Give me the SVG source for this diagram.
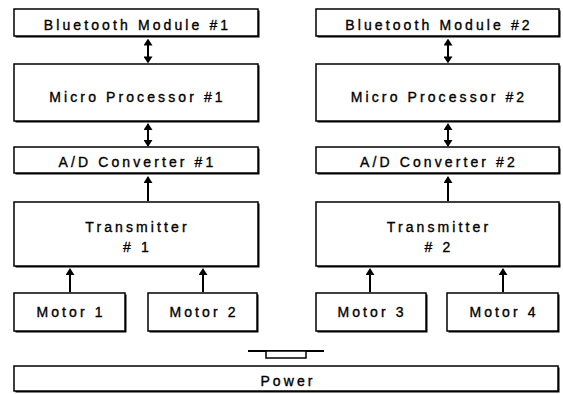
<svg xmlns="http://www.w3.org/2000/svg" width="563" height="394" viewBox="0 0 563 394">
<style>
  .sh { fill: #000; }
  .box { fill: #fff; stroke: #000; stroke-width: 1.5; }
  .t { font-family: "Liberation Sans", Arial, Helvetica, sans-serif; font-size: 14px; letter-spacing: 3.1px; text-anchor: middle; fill: #000; stroke: #000; stroke-width: 0.35px; }
  .ln { stroke: #000; stroke-width: 2; fill: none; }
</style>
<defs>
  <marker id="ah" viewBox="0 0 10 10" refX="8" refY="5" markerWidth="7" markerHeight="9" markerUnits="userSpaceOnUse" preserveAspectRatio="none" orient="auto-start-reverse">
    <path d="M0,0 L10,5 L0,10 z" fill="#000"/>
  </marker>
</defs>
<rect width="563" height="394" fill="#fff"/>

<g id="bt1"><rect class="sh" x="15.5" y="10.5" width="244" height="27"/><rect class="box" x="14" y="9" width="244" height="27"/><text class="t" x="137.5" y="30">Bluetooth Module #1</text></g>
<g id="mp1"><rect class="sh" x="15.5" y="65.5" width="244" height="57"/><rect class="box" x="14" y="64" width="244" height="57"/><text class="t" x="137.5" y="102">Micro Processor #1</text></g>
<g id="ad1"><rect class="sh" x="15.5" y="148.5" width="244" height="26"/><rect class="box" x="14" y="147" width="244" height="26"/><text class="t" x="137.5" y="167">A/D Converter #1</text></g>
<g id="tx1"><rect class="sh" x="15.5" y="203.5" width="244" height="64"/><rect class="box" x="14" y="202" width="244" height="64"/><text class="t" x="137.5" y="232">Transmitter</text><text class="t" x="137.5" y="252"># 1</text></g>
<g id="m1"><rect class="sh" x="15.5" y="294.5" width="111" height="38"/><rect class="box" x="14" y="293" width="111" height="38"/><text class="t" x="71" y="317">Motor 1</text></g>
<g id="m2"><rect class="sh" x="149.5" y="294.5" width="109" height="38"/><rect class="box" x="148" y="293" width="109" height="38"/><text class="t" x="204" y="317">Motor 2</text></g>

<g id="bt2"><rect class="sh" x="317.5" y="10.5" width="243" height="27"/><rect class="box" x="316" y="9" width="243" height="27"/><text class="t" x="439" y="30">Bluetooth Module #2</text></g>
<g id="mp2"><rect class="sh" x="317.5" y="65.5" width="243" height="57"/><rect class="box" x="316" y="64" width="243" height="57"/><text class="t" x="439" y="102">Micro Processor #2</text></g>
<g id="ad2"><rect class="sh" x="317.5" y="148.5" width="243" height="26"/><rect class="box" x="316" y="147" width="243" height="26"/><text class="t" x="439" y="167">A/D Converter #2</text></g>
<g id="tx2"><rect class="sh" x="317.5" y="203.5" width="243" height="64"/><rect class="box" x="316" y="202" width="243" height="64"/><text class="t" x="439" y="232">Transmitter</text><text class="t" x="439" y="252"># 2</text></g>
<g id="m3"><rect class="sh" x="317.5" y="294.5" width="110" height="38"/><rect class="box" x="316" y="293" width="110" height="38"/><text class="t" x="372" y="317">Motor 3</text></g>
<g id="m4"><rect class="sh" x="448.5" y="294.5" width="111" height="38"/><rect class="box" x="447" y="293" width="111" height="38"/><text class="t" x="504" y="317">Motor 4</text></g>

<g id="power"><rect class="sh" x="15.5" y="367.5" width="544" height="25"/><rect class="box" x="14" y="366" width="544" height="25"/><text class="t" x="288" y="386">Power</text></g>

<g id="switch">
  <line class="ln" x1="248" y1="351" x2="324" y2="351" stroke-width="1.5"/>
  <rect x="266" y="351" width="40" height="7" fill="#fff" stroke="#000" stroke-width="1.5"/>
</g>

<g id="connectors">
  <line class="ln" x1="148" y1="40" x2="148" y2="62" marker-start="url(#ah)" marker-end="url(#ah)"/>
  <line class="ln" x1="148" y1="124.5" x2="148" y2="145.5" marker-start="url(#ah)" marker-end="url(#ah)"/>
  <line class="ln" x1="448" y1="40" x2="448" y2="62" marker-start="url(#ah)" marker-end="url(#ah)"/>
  <line class="ln" x1="448" y1="124.5" x2="448" y2="145.5" marker-start="url(#ah)" marker-end="url(#ah)"/>
  <line class="ln" x1="148" y1="201" x2="148" y2="177.5" marker-end="url(#ah)"/>
  <line class="ln" x1="448" y1="201" x2="448" y2="177.5" marker-end="url(#ah)"/>
  <line class="ln" x1="70" y1="292" x2="70" y2="269.5" marker-end="url(#ah)"/>
  <line class="ln" x1="203" y1="292" x2="203" y2="269.5" marker-end="url(#ah)"/>
  <line class="ln" x1="370" y1="292" x2="370" y2="269.5" marker-end="url(#ah)"/>
  <line class="ln" x1="503" y1="292" x2="503" y2="269.5" marker-end="url(#ah)"/>
</g>
</svg>
